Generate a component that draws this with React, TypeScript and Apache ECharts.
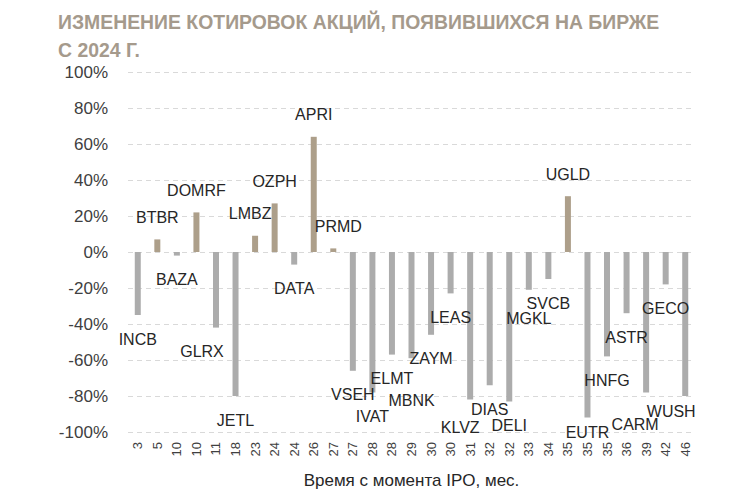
import React, { useEffect, useRef } from "react";
import * as echarts from "echarts";

// ticker, months since IPO and price change (%) since listing
const tickers = [
  "INCB", "BTBR", "BAZA", "DOMRF", "GLRX", "JETL", "LMBZ", "OZPH", "DATA", "APRI",
  "PRMD", "VSEH", "IVAT", "ELMT", "MBNK", "ZAYM", "LEAS", "KLVZ", "DIAS", "DELI",
  "MGKL", "SVCB", "UGLD", "EUTR", "HNFG", "ASTR", "CARM", "GECO", "WUSH",
];
const months = [
  "3", "5", "10", "10", "11", "18", "23", "24", "24", "26",
  "27", "27", "28", "28", "29", "30", "30", "31", "32", "32",
  "33", "34", "35", "35", "35", "36", "39", "42", "46",
];
const changes = [
  -35, 7, -2, 22, -42, -80, 9, 27, -7, 64,
  2, -66, -78, -57, -59, -46, -23, -82, -74, -83,
  -21, -15, 31, -92, -58, -34, -78, -18, -80,
];
const yTicks = [-100, -80, -60, -40, -20, 0, 20, 40, 60, 80, 100];

// label nudges where the original moved labels to avoid overlaps
const labelNudges: Record<string, [number, number]> = {
  GLRX: [-14, 0],
  LMBZ: [-5, 0],
  PRMD: [5, 0],
  MBNK: [0, 18],
  KLVZ: [-10, 4],
  MGKL: [0, 5],
  EUTR: [0, -9],
  CARM: [-11, 8],
  WUSH: [-14, -9],
};

const FONT = "'Liberation Sans', Arial, sans-serif";

const App: React.FC = () => {
  const chartRef = useRef<HTMLDivElement | null>(null);

  useEffect(() => {
    document.body.style.margin = "0";
    if (!chartRef.current) return;
    const chart = echarts.init(chartRef.current, undefined, { renderer: "svg" });

    const options = {
      animation: false,
      backgroundColor: "#ffffff",
      title: {
        text: "ИЗМЕНЕНИЕ КОТИРОВОК АКЦИЙ, ПОЯВИВШИХСЯ НА БИРЖЕ\nС 2024 Г.",
        left: 53,
        top: 3,
        textStyle: {
          fontFamily: FONT,
          fontWeight: "bold",
          fontSize: 19.4,
          lineHeight: 28,
          color: "#a59a8c",
        },
      },
      grid: { left: 128, right: 55, top: 72, bottom: 68 },
      xAxis: {
        type: "category",
        data: tickers,
        axisLine: { show: false },
        axisTick: { show: false },
        axisLabel: {
          interval: 0,
          rotate: 90,
          margin: 10,
          fontFamily: FONT,
          fontSize: 13,
          color: "#404040",
          formatter: (_v: string, i: number) => months[i],
        },
        name: "Время с момента IPO, мес.",
        nameLocation: "middle",
        nameGap: 40,
        nameTextStyle: { fontFamily: FONT, fontSize: 17, color: "#262626" },
      },
      yAxis: {
        type: "value",
        min: yTicks[0],
        max: yTicks[yTicks.length - 1],
        interval: 20,
        axisLine: { show: false },
        axisTick: { show: false },
        axisLabel: {
          margin: 20,
          fontFamily: FONT,
          fontSize: 17,
          color: "#404040",
          formatter: "{value}%",
        },
        splitLine: {
          lineStyle: { color: "#d9d9d9", type: [5, 4], width: 1 },
        },
      },
      series: [
        {
          type: "bar",
          barWidth: 6,
          data: changes.map((v, i) => ({
            value: v,
            itemStyle: { color: v >= 0 ? "#ad9f8a" : "#acacac" },
            label: {
              show: true,
              position: "outside",
              distance: v >= 0 ? 14 : 16,
              offset: labelNudges[tickers[i]] || [0, 0],
              formatter: tickers[i],
              fontFamily: FONT,
              fontSize: 16,
              color: "#262626",
            },
          })),
        },
      ],
    };

    chart.setOption(options);

    return () => {
      chart.dispose();
    };
  }, []);

  return <div ref={chartRef} style={{ width: "750px", height: "500px" }} />;
};

export default App;
